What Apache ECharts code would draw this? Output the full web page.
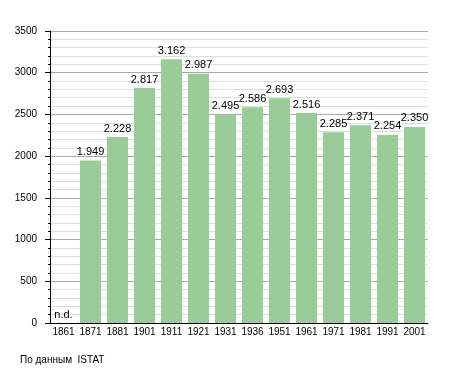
<!DOCTYPE html>
<html>
<head>
<meta charset="utf-8">
<script src="https://cdn.jsdelivr.net/npm/echarts@6/dist/echarts.min.js"></script>
<style>
html,body{margin:0;padding:0;background:#fff;}
#c{width:455px;height:373px;}
</style>
</head>
<body>
<div id="c"></div>
<script>
var categories = ['1861','1871','1881','1901','1911','1921','1931','1936','1951','1961','1971','1981','1991','2001'];
var values = [0,1949,2228,2817,3162,2987,2495,2586,2693,2516,2285,2371,2254,2350];
var yTicks = [0,500,1000,1500,2000,2500,3000,3500];
var sourceText = 'По данным  ISTAT';

var FONT = 'Liberation Sans, Arial, sans-serif';
function fmt(v){
  if (!v) return 'n.d.';
  var s = String(v);
  return s.replace(/\B(?=(\d{3})+(?!\d))/g, '.');
}
var chart = echarts.init(document.getElementById('c'), null, {renderer:'canvas'});
chart.setOption({
  animation:false,
  backgroundColor:'#fff',
  grid:{left:50, right:27, top:31, bottom:50, containLabel:false},
  xAxis:{
    type:'category',
    data:categories,
    axisLine:{lineStyle:{color:'#000', width:1}},
    axisTick:{show:false},
    axisLabel:{color:'#000', fontSize:10, fontFamily:FONT, margin:4, interval:0},
    splitLine:{show:false}
  },
  yAxis:{
    type:'value',
    min:yTicks[0], max:yTicks[yTicks.length-1], interval:500,
    axisLine:{show:true, lineStyle:{color:'#000', width:1}},
    axisTick:{show:true, length:5, lineStyle:{color:'#000'}},
    minorTick:{show:true, splitNumber:5, length:2, lineStyle:{color:'#000'}},
    axisLabel:{color:'#000', fontSize:10, fontFamily:FONT, margin:13,
      formatter:function(v){return String(v);}},
    splitLine:{show:true, lineStyle:{color:'#a8a8a8', width:1}},
    minorSplitLine:{show:true, lineStyle:{color:'#dedede', width:1}}
  },
  series:[{
    type:'bar',
    data:values,
    barCategoryGap:'22%',
    itemStyle:{color:'#99cc99'},
    label:{show:true, position:'top', distance:3, color:'#000', fontSize:11, fontFamily:FONT,
      formatter:function(p){return fmt(p.value);}}
  }],
  graphic:[{
    type:'text', left:20, top:355,
    style:{text:sourceText, fill:'#000', font:'10px '+FONT}
  }]
});
</script>
</body>
</html>
